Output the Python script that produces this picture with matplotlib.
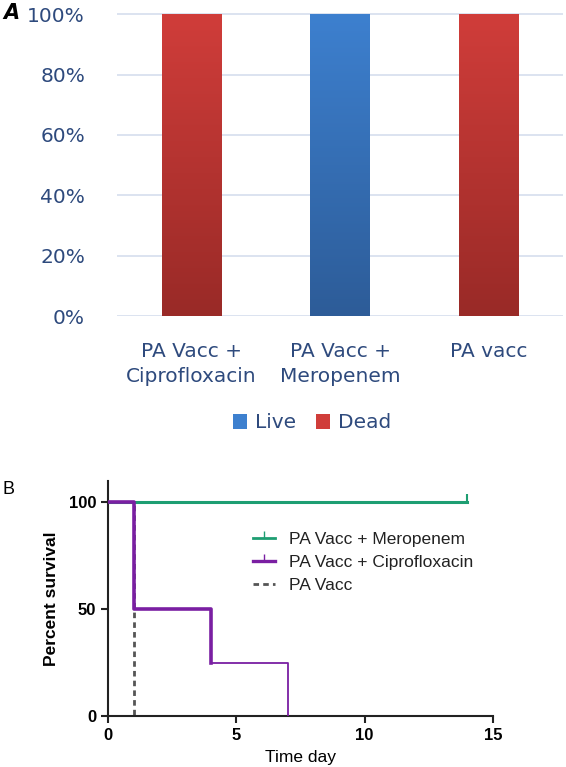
import numpy as np
import matplotlib
matplotlib.use('Agg')
import matplotlib.pyplot as plt
from matplotlib.colors import LinearSegmentedColormap
from matplotlib.patches import Patch
from matplotlib.lines import Line2D
from matplotlib.markers import TICKUP

# Panel A - outcome per group (share of animals)
groups = ['PA Vacc +\nCiprofloxacin', 'PA Vacc +\nMeropenem', 'PA vacc']
live = [0.0, 1.0, 0.0]
dead = [1.0, 0.0, 1.0]
pct_ticks = [0, 0.2, 0.4, 0.6, 0.8, 1.0]

# Panel B - Kaplan-Meier curves (day, percent survival)
mero_t = [0, 14]
mero_s = [100, 100]
cipro_t = [0, 1, 4, 7]
cipro_s = [100, 50, 25, 0]
vacc_t = [0, 1]
vacc_s = [100, 0]

navy = '#2E4A7D'
red_top, red_bot = '#D03D3A', '#992A27'
blue_top, blue_bot = '#3D80CF', '#2D5C98'

fig = plt.figure(figsize=(5.66, 7.67), dpi=100)

# ---------------- panel A ----------------
axA = fig.add_axes([117/566, 1-316/767, 446/566, 303/767])
x = np.arange(len(groups))
w = 0.4
grad = np.linspace(1, 0, 256).reshape(-1, 1)
for i in range(len(groups)):
    for val, top, bot in ((live[i], blue_top, blue_bot), (dead[i], red_top, red_bot)):
        if val <= 0:
            continue
        cm = LinearSegmentedColormap.from_list('g', [bot, top])
        axA.imshow(grad, extent=[x[i]-w/2, x[i]+w/2, 0, val], cmap=cm,
                   aspect='auto', origin='upper', zorder=3, vmin=0, vmax=1)
axA.set_xlim(-0.5, len(groups)-0.5)
axA.set_ylim(0, 1.004)
axA.set_yticks(pct_ticks)
axA.set_yticklabels([f'{int(round(p*100))}%' for p in pct_ticks])
for p in pct_ticks:
    axA.axhline(p, color='#D6DEEE', lw=1.2, zorder=1)
axA.set_xticks(x)
axA.set_xticklabels(groups, linespacing=1.4)
for s in axA.spines.values():
    s.set_visible(False)
axA.tick_params(axis='both', length=0, labelsize=14.5, labelcolor=navy)
axA.tick_params(axis='y', pad=23)
axA.tick_params(axis='x', pad=19)
legA = [Patch(facecolor=blue_top, label='Live'), Patch(facecolor=red_top, label='Dead')]
fig.legend(handles=legA, loc='center', bbox_to_anchor=(312/566, 1-423/767), ncol=2,
           frameon=False, fontsize=14.5, labelcolor=navy, handlelength=0.7, handleheight=0.7,
           handletextpad=0.4, columnspacing=1.0)
fig.text(3/566, 1-13/767, 'A', fontsize=15, style='italic', fontweight='bold', va='center')

# ---------------- panel B ----------------
axB = fig.add_axes([108/566, 1-716/767, 385/566, 235/767])
green = '#1E9E72'
purple = '#7A1FA2'
axB.step(mero_t, mero_s, where='post', color=green, lw=2.2, zorder=2)
axB.plot([mero_t[-1]], [mero_s[-1]], marker=TICKUP, markersize=6, mew=1.5, color=green, zorder=2)
axB.step(vacc_t, vacc_s, where='post', color='#555555', lw=2, ls=(0, (2, 1.5)), zorder=1)
axB.step(cipro_t[:3], cipro_s[:3], where='post', color=purple, lw=2.6, zorder=3)
axB.step(cipro_t[2:], cipro_s[2:], where='post', color=purple, lw=1.3, zorder=3)
axB.set_xlim(0, 15)
axB.set_ylim(0, 110)
axB.set_xticks([0, 5, 10, 15])
axB.set_yticks([0, 50, 100])
for s in ['top', 'right']:
    axB.spines[s].set_visible(False)
for s in ['left', 'bottom']:
    axB.spines[s].set_linewidth(1.5)
    axB.spines[s].set_color('#222222')
axB.tick_params(axis='both', length=5, width=1.5, labelsize=12, color='#222222')
for lab in axB.get_xticklabels() + axB.get_yticklabels():
    lab.set_fontweight('bold')
    lab.set_fontfamily('Liberation Sans')
axB.set_ylabel('Percent survival', fontsize=12.5, fontweight='bold', family='Liberation Sans', labelpad=7)
axB.set_xlabel('Time day', fontsize=12.5, family='Liberation Sans', labelpad=5)
hB = [Line2D([], [], color=green, lw=2, marker=TICKUP, markersize=5, markevery=[1]),
      Line2D([], [], color=purple, lw=2.4, marker=TICKUP, markersize=5, markevery=[1]),
      Line2D([], [], color='#555555', lw=2, ls=(0, (2, 1.5)))]
axB.legend(hB, ['PA Vacc + Meropenem', 'PA Vacc + Ciprofloxacin', 'PA Vacc'],
           loc='upper left', bbox_to_anchor=(0.335, 0.85), frameon=False,
           prop={'family': 'Liberation Sans', 'size': 12.5}, handlelength=1.3,
           handletextpad=0.8, labelspacing=0.45, labelcolor='#222222')
fig.text(3/566, 1-490/767, 'B', fontsize=13, family='Liberation Sans', va='center')

fig.savefig('out.png', dpi=100)
